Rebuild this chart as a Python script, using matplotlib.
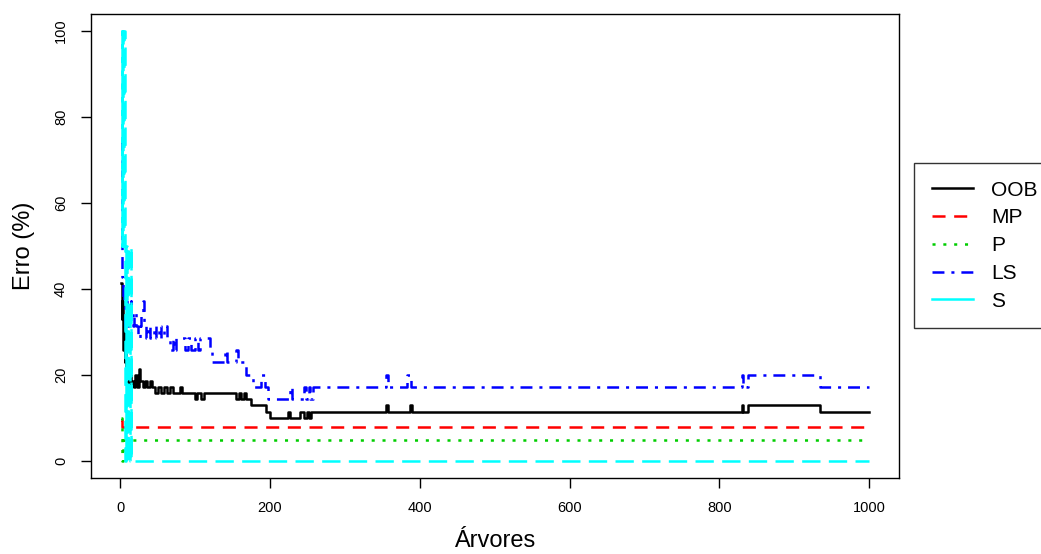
import matplotlib
matplotlib.use("Agg")
import matplotlib.pyplot as plt
from matplotlib.lines import Line2D

plt.rcParams['font.family'] = ['Liberation Sans', 'DejaVu Sans']
plt.rcParams['lines.scale_dashes'] = False

# Error rate (%) per number of trees, stored as step change points
oob_trees = [1, 2, 3, 4, 5, 6, 7, 8, 9, 10, 12, 14, 16, 18, 20, 22, 25, 27, 30, 33, 36,
             40, 43, 47, 50, 54, 58, 62, 66, 70, 80, 82, 100, 103, 108, 112, 155, 158,
             162, 165, 168, 175, 195, 200, 224, 227, 240, 246, 249, 252, 255, 355, 358,
             387, 390, 830, 832, 838, 935]
oob_err = [41.4, 32.9, 37.1, 25.7, 30.0, 22.9, 27.1, 21.4, 18.6, 17.1, 20.0, 17.1, 18.6,
           17.1, 20.0, 17.1, 21.4, 18.6, 17.1, 18.6, 17.1, 18.6, 17.1, 15.7, 17.1, 15.7,
           17.1, 15.7, 17.1, 15.7, 17.1, 15.7, 14.3, 15.7, 14.3, 15.7, 14.3, 15.7, 14.3,
           15.7, 14.3, 12.9, 11.4, 10.0, 11.4, 10.0, 11.4, 10.0, 11.4, 10.0, 11.4, 12.9,
           11.4, 12.9, 11.4, 12.9, 11.4, 12.9, 11.4]

mp_trees = [1, 3]
mp_err = [9.5, 7.9]

p_trees = [1, 2, 4]
p_err = [10.0, 0.0, 4.9]

ls_trees = [1, 2, 3, 4, 5, 6, 7, 8, 9, 10, 12, 14, 15, 17, 19, 21, 24, 26, 28, 30, 32,
            34, 37, 40, 45, 48, 52, 55, 58, 62, 66, 70, 72, 75, 86, 90, 95, 100, 104,
            107, 120, 123, 140, 143, 155, 157, 162, 168, 178, 188, 193, 197, 227, 229,
            245, 248, 252, 254, 257, 355, 358, 383, 388, 830, 832, 838, 934]
ls_err = [74.3, 45.7, 42.9, 37.1, 40.0, 34.3, 31.4, 37.1, 34.3, 31.4, 34.3, 37.1, 34.3,
          31.4, 34.3, 31.4, 28.6, 31.4, 34.3, 37.1, 31.4, 28.6, 31.4, 28.6, 31.4, 28.6,
          31.4, 28.6, 31.4, 28.6, 25.7, 28.6, 25.7, 28.6, 25.7, 28.6, 25.7, 28.6, 25.7,
          28.6, 25.7, 22.9, 25.7, 22.9, 25.7, 22.9, 22.9, 20.0, 17.1, 20.0, 17.1, 14.3,
          17.1, 14.3, 17.1, 14.3, 17.1, 14.3, 17.1, 20.0, 17.1, 20.0, 17.1, 20.0, 17.1,
          20.0, 17.1]

s_trees = [1, 2, 3, 4, 5, 6, 7, 8, 9, 10, 11, 12, 13, 14, 15]
s_err = [100.0, 50.0, 100.0, 50.0, 100.0, 50.0, 0.0, 50.0, 0.0, 50.0, 0.0, 33.3, 0.0,
         50.0, 0.0]

n_trees = 1000
labels = ['OOB', 'MP', 'P', 'LS', 'S']
colors = ['black', '#FF0000', '#00CD00', '#0000FF', '#00FFFF']
# dash patterns in points
styles = ['-', (0, (9.4, 6.2)), (0, (2.2, 5.6)), (0, (8.6, 5.0, 2.2, 5.0)), (0, (13.2, 6.0))]
series = [(oob_trees, oob_err), (mp_trees, mp_err), (p_trees, p_err),
          (ls_trees, ls_err), (s_trees, s_err)]
lw = 1.8

fig = plt.figure(figsize=(10.41, 5.54), dpi=100)
ax = fig.add_axes([91 / 1041, 76 / 554, 808 / 1041, 464 / 554])

for (t, e), c, ls in zip(series, colors, styles):
    xs = list(t) + [n_trees]
    ys = list(e) + [e[-1]]
    ax.plot(xs, ys, drawstyle='steps-post', color=c, linestyle=ls, linewidth=lw)

ax.set_xlim(1 - 0.04 * 999, 1000 + 0.04 * 999)
ax.set_ylim(-4, 104)
ax.set_xticks([0, 200, 400, 600, 800, 1000])
ax.set_yticks([0, 20, 40, 60, 80, 100])
ax.tick_params(axis='both', length=7.5, width=1, labelsize=10.5, pad=9)
for lab in ax.get_yticklabels():
    lab.set_rotation(90)
    lab.set_va('center')
for sp in ax.spines.values():
    sp.set_linewidth(1)

ax.set_xlabel('Árvores', fontsize=17, labelpad=11)
ax.set_ylabel('Erro (%)', fontsize=17, labelpad=14)

handles = [Line2D([], [], color=c, linestyle=ls, linewidth=lw)
           for c, ls in zip(colors, styles)]
handles[-1] = Line2D([], [], color=colors[-1], linestyle='-', linewidth=lw)
leg = fig.legend(handles, labels, loc='upper left', bbox_to_anchor=(914 / 1041, 1 - 163 / 554),
                 fontsize=15, frameon=True, fancybox=False, edgecolor='black',
                 handlelength=2.0, handletextpad=0.87, labelspacing=0.42,
                 borderpad=0.85, borderaxespad=0)
leg.get_frame().set_linewidth(1)

fig.savefig('out.png', dpi=100)
